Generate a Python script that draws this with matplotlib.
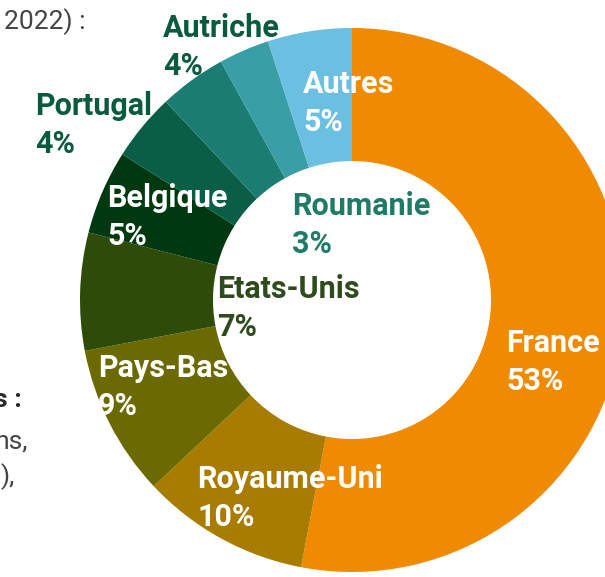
import numpy as np
import matplotlib.pyplot as plt

# share of exports by destination (%)
countries = ['France', 'Royaume-Uni', 'Pays-Bas', 'Etats-Unis', 'Belgique',
             'Portugal', 'Autriche', 'Roumanie', 'Autres']
shares = [53, 10, 9, 7, 5, 4, 4, 3, 5]
colors = ['#f08a00', '#a87c00', '#6b6a00', '#2e4b0a', '#00380f',
          '#0a5e46', '#1b7d72', '#3a9ea6', '#6bbfe0']

# label anchors in pixels (left x, baseline of first line from top) and text colour
label_x = [506, 197, 98, 217, 107, 35, 163, 292, 303]
label_y = [352, 488, 377, 298, 207, 115, 37, 215, 93]
label_col = ['white', 'white', 'white', '#2f4a1c', 'white',
             '#0a5a40', '#0a5a40', '#1f7a68', 'white']

W, H = 605, 577
fig = plt.figure(figsize=(W / 100, H / 100), dpi=100)
ax = fig.add_axes([0, 0, 1, 1])

cx, cy = 352, H - 300
R = 272
ax.pie(shares, colors=colors, startangle=90, counterclock=False,
       center=(cx, cy), radius=R,
       wedgeprops=dict(width=R - 139, edgecolor='none', linewidth=0))

font = dict(family='Roboto', fontweight='bold', fontsize=22)
for name, s, x, y, c in zip(countries, shares, label_x, label_y, label_col):
    ax.text(x, H - y, name, color=c, ha='left', va='baseline', **font)
    ax.text(x, H - y - 38, '{}%'.format(s), color=c, ha='left', va='baseline', **font)

# bits of the surrounding page text cut off at the left
ax.text(86, H - 29, '2022) :', ha='right', va='baseline', color='#444444',
        family='Roboto', fontsize=19)
ax.text(22, H - 407, 's :', ha='right', va='baseline', color='#2a2a2a',
        family='Roboto', fontweight='bold', fontsize=19)
ax.text(28, H - 448, 'ns,', ha='right', va='baseline', color='#444444',
        family='Roboto', fontsize=19)
ax.text(15, H - 484, '),', ha='right', va='baseline', color='#444444',
        family='Roboto', fontsize=19)

ax.set_xlim(0, W)
ax.set_ylim(0, H)
ax.set_aspect('auto')
ax.axis('off')

fig.savefig('out.png', dpi=100)
